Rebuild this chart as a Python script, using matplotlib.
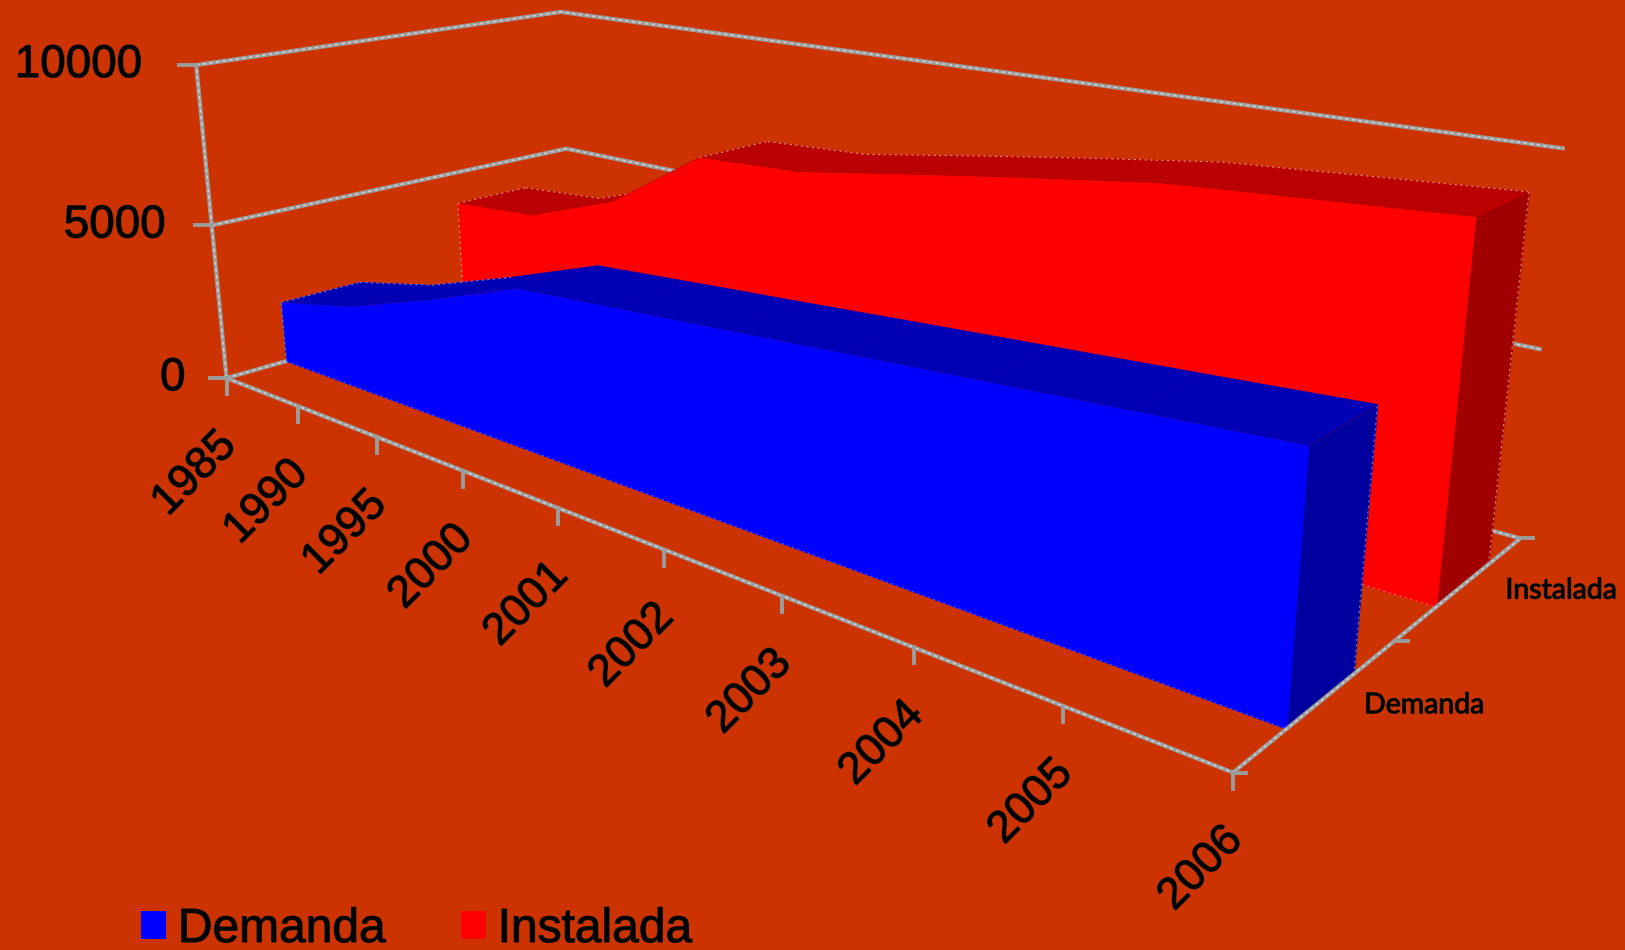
import numpy as np
import matplotlib
matplotlib.use("Agg")
import matplotlib.pyplot as plt
import matplotlib.patheffects as pe
from matplotlib.lines import Line2D
from matplotlib.patches import Patch
from mpl_toolkits.mplot3d import proj3d
from mpl_toolkits.mplot3d.art3d import Poly3DCollection

# capacity data
years = ["1985", "1990", "1995", "2000", "2001", "2002", "2003", "2004", "2005", "2006"]
demanda = [1990, 2650, 3660, 4760, 5000, 5230, 5470, 5700, 5930, 6170]
instalada = [3900, 4130, 5220, 7230, 7380, 7900, 8400, 8870, 9100, 9320]
series_names = ["Demanda", "Instalada"]
value_ticks = [0, 5000, 10000]

BG = "#cc3300"
GRAY = "#9c9c9c"
LIGHT = "#cdcdcd"
W, H = 1625, 950

plt.rcParams["font.family"] = ["Liberation Sans", "DejaVu Sans"]
heavy = [pe.withStroke(linewidth=0.9, foreground="#1a1a1a")]

fig = plt.figure(figsize=(W / 100, H / 100), dpi=100, facecolor=BG)
ax = fig.add_axes([0.05063, -0.04796, 0.85743, 1.46666], projection="3d", computed_zorder=False)
ax.set_xlim(0, 9, view_margin=0)
ax.set_ylim(0, 1, view_margin=0)
ax.set_zlim(0, 10000, view_margin=0)
ax.view_init(elev=16.3216, azim=-48.3597, roll=0.3010)
ax.set_proj_type("persp", focal_length=0.2467)
ax.set_box_aspect((3.5539, 1.4579, 1.0))
ax.set_axis_off()
ax.set_facecolor("none")
ax.apply_aspect()

nx = len(years)
last = nx - 1


def to_fig(x, y, z, dx=0, dy=0):
    # 3D data point to figure fraction, dx/dy are pixels (dy downward)
    u, v, _ = proj3d.proj_transform(x, y, z, ax.get_proj())
    p = ax.transData.transform((u, v))
    return (p[0] + dx) / W, (p[1] - dy) / H


def rule(xs, ys, zs, zorder):
    # axis and grid lines are a gray stroke with a lighter broken core
    ax.plot(xs, ys, zs, color=GRAY, lw=3, zorder=zorder, clip_on=False, solid_capstyle="butt")
    ax.plot(xs, ys, zs, color=LIGHT, lw=1.2, ls=(0, (2, 2)), zorder=zorder + 0.01, clip_on=False)


def tick(x, y, z, dx, dy):
    x0, y0 = to_fig(x, y, z)
    x1, y1 = to_fig(x, y, z, dx, dy)
    fig.add_artist(Line2D([x0, x1], [y0, y1], color=GRAY, lw=2.8, zorder=5))


def speckle(xs, ys, zs, color, zorder):
    # thin broken highlight along the outline of an area
    ax.plot(xs, ys, zs, color=color, lw=0.8, ls=(0, (2, 3)), zorder=zorder, clip_on=False)


def band(values, y0, y1, front, top, side, back_edge, base_edge, back_spans, zorder):
    vals = np.asarray(values, float)
    idx = np.arange(nx)
    top_quads = [[(i, y0, vals[i]), (i + 1, y0, vals[i + 1]), (i + 1, y1, vals[i + 1]), (i, y1, vals[i])]
                 for i in range(last)]
    front_poly = [[(0, y0, 0), *[(i, y0, vals[i]) for i in idx], (last, y0, 0)]]
    side_poly = [[(last, y0, 0), (last, y0, vals[-1]), (last, y1, vals[-1]), (last, y1, 0)]]
    for polys, col, dz in [(top_quads, top, 0), (side_poly, side, 0.1), (front_poly, front, 0.2)]:
        pc = Poly3DCollection(polys, facecolors=col, edgecolors=col, linewidths=0.5, zorder=zorder + dz)
        pc.set_clip_on(False)
        ax.add_collection3d(pc)
    # only the stretches of the far edge that stand against the background
    for a, b in back_spans:
        speckle(idx[a:b + 1], [y1] * (b - a + 1), vals[a:b + 1], back_edge, zorder + 0.15)
        speckle([a, a], [y0, y1], [vals[a], vals[a]], back_edge, zorder + 0.15)
    speckle([last, last], [y1, y1], [0, vals[-1]], back_edge, zorder + 0.15)
    speckle([0, 0], [y0, y0], [0, vals[0]], back_edge, zorder + 0.3)
    speckle([0, last], [y0, y0], [0, 0], base_edge, zorder + 0.3)


# walls
for v in value_ticks:
    rule([0, 0, last], [0, 1, 1], [v, v, v], 1)

band(instalada, 0.652, 0.862, "#ff0000", "#ba0000", "#a00000", "#e88a8a", "#ff6a6a", [(0, 2), (3, 9)], 2)
band(demanda, 0.151, 0.360, "#0000ff", "#0000b4", "#00009f", "#6f78d8", "#4a4aff", [(0, 2)], 3)

# axes lines in front of the areas
rule([0, 0], [0, 0], [0, 10000], 4)
rule([0, last], [0, 0], [0, 0], 4)
rule([last, last], [0, 1], [0, 0], 4)

for v, off in zip(value_ticks, [-41, -46, -54]):
    tick(0, 0, v, -17, 0)
    x0, y0 = to_fig(0, 0, v, off, 0)
    fig.text(x0, y0, str(v), fontsize=33, ha="right", va="center", color="black", path_effects=heavy)

for i, label in enumerate(years):
    tick(i, 0, 0, 0, 16)
    x0, y0 = to_fig(i, 0, 0, 3, 61)
    fig.text(x0, y0, label, fontsize=32, rotation=45, rotation_mode="anchor", ha="right", va="center",
             color="black", path_effects=heavy)

for y in [0, 0.5, 1]:
    tick(last, y, 0, 13, 0)

for name, y, dx, dy in zip(series_names, [0.25, 0.75], [105, 100], [3, 4]):
    x0, y0 = to_fig(last, y, 0, dx, dy)
    fig.text(x0, y0, name, fontsize=20.5, family="Lato", ha="center", va="center", color="black", path_effects=heavy)

handles = [Patch(facecolor="#0000ff", edgecolor="none"), Patch(facecolor="#ff0000", edgecolor="none")]
leg = fig.legend(handles, series_names, ncol=2, frameon=False, fontsize=34.5, loc="lower left",
                 bbox_to_anchor=(141 / W, -2 / H), borderaxespad=0, borderpad=0, handlelength=0.53,
                 handleheight=0.55, handletextpad=0.24, columnspacing=1.57)
for t in leg.get_texts():
    t.set_path_effects(heavy)

fig.savefig("out.png", dpi=100, facecolor=fig.get_facecolor())
